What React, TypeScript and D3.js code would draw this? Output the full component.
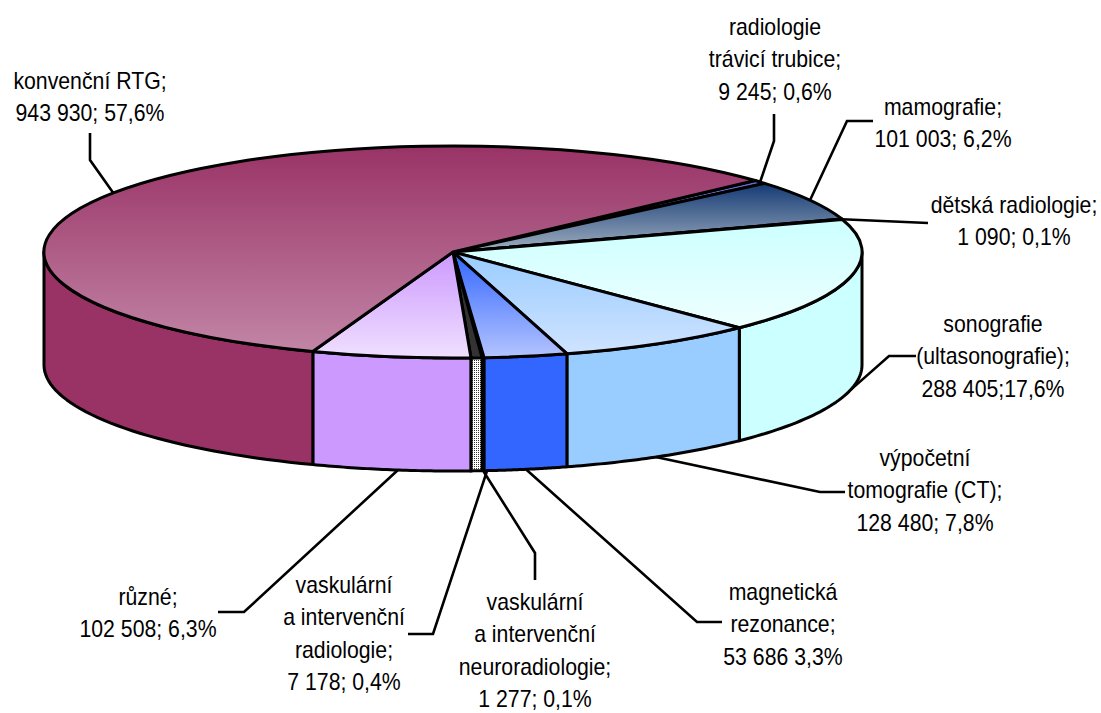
import React from "react";
import * as d3 from "d3";

const categories = [
  "radiologie trávicí trubice",
  "mamografie",
  "dětská radiologie",
  "sonografie",
  "výpočetní tomografie",
  "magnetická rezonance",
  "neuroradiologie",
  "vaskulární radiologie",
  "různé",
  "konvenční RTG",
];
const values = [9245, 101003, 1090, 288405, 128480, 53686, 1277, 7178, 102508, 943930];

const labelLines = [
  ["radiologie", "trávicí trubice;", "9 245; 0,6%"],
  ["mamografie;", "101 003; 6,2%"],
  ["dětská radiologie;", "1 090; 0,1%"],
  ["sonografie", "(ultasonografie);", "288 405;17,6%"],
  ["výpočetní", "tomografie (CT);", "128 480; 7,8%"],
  ["magnetická", "rezonance;", "53 686 3,3%"],
  ["vaskulární", "a intervenční", "neuroradiologie;", "1 277; 0,1%"],
  ["vaskulární", "a intervenční", "radiologie;", "7 178; 0,4%"],
  ["různé;", "102 508; 6,3%"],
  ["konvenční RTG;", "943 930; 57,6%"],
];

const sideColors = ["#6666cc", "#1a3a72", "#7f9bb5", "#ccffff", "#99ccff", "#3366ff", "url(#dots)", "url(#dots)", "#cc99ff", "#993366"];
const topFrom = ["#6666cc", "#143a74", "#7f94ad", "#ccffff", "#99ccff", "#3366ff", "#ffffff", "#ffffff", "#cc99ff", "#993366"];
const topTo = ["#9a9ae0", "#a0afc0", "#a0b0c0", "#eeffff", "#cfe3ff", "#b4c4ff", "#ffffff", "#ffffff", "#f0e0ff", "#c285a6"];

// label block centre and first baseline, then leader elbow points
const labelX = [775, 943, 1014, 993, 925, 783, 535, 344, 148, 90];
const labelY = [35, 115, 213, 332, 466, 600, 610, 593, 605, 89];
const leaders: [number, number][][] = [
  [[774, 141], [774, 114]],
  [[847, 121], [873, 121]],
  [[928, 223]],
  [[889, 356], [916, 356]],
  [[820, 492], [845, 492]],
  [[697, 622], [722, 622]],
  [[535, 553], [535, 580]],
  [[433, 634], [408, 634]],
  [[244, 612], [218, 612]],
  [[90, 160], [90, 133]],
];
const leaderOnSide = [false, false, false, true, true, true, true, true, true, false];
const leaderNudge = [0, 0, 0, 0, 0.01, 0, 0, -0.026, -0.018, 0];

const width = 1101;
const height = 713;
const cx = 453;
const cy = 252;
const rx = 409;
const ry = 106;
const depth = 113;
const lineHeight = 32.4;
const startAngle = (47.65 * Math.PI) / 180;
const thinSlice = 6; // neuroradiologie is too thin to carry its own outline

const slices = d3
  .pie<number>()
  .sort(null)
  .startAngle(startAngle)
  .endAngle(startAngle + 2 * Math.PI)(values);
const drawOrder = [thinSlice, ...slices.map((_, i) => i).filter((i) => i !== thinSlice)];

const unitArc = d3.arc<d3.PieArcDatum<number>>().innerRadius(0).outerRadius(1);
const project = (a: number, dy = 0): [number, number] => [cx + rx * Math.sin(a), cy - ry * Math.cos(a) + dy];
const line = d3.line();

// front wall of a slice, only the part facing the viewer
function sidePath(a0: number, a1: number) {
  const lo = Math.max(a0, Math.PI / 2);
  const hi = Math.min(a1, (3 * Math.PI) / 2);
  if (hi <= lo) return null;
  const steps = d3.range(0, 41).map((i) => lo + ((hi - lo) * i) / 40);
  const pts = [...steps.map((a) => project(a)), ...steps.slice().reverse().map((a) => project(a, depth))];
  return line(pts) + "Z";
}

export default function App() {
  return (
    <svg width={width} height={height} style={{ position: "absolute", left: 0, top: 0, background: "#fff" }}>
      <defs>
        <pattern id="dots" width="2" height="2" patternUnits="userSpaceOnUse">
          <rect width="2" height="2" fill="#fff" />
          <rect width="1" height="1" fill="#333" />
        </pattern>
        {slices.map((s, i) => (
          <linearGradient key={i} id={`top${i}`} x1="0" y1="0" x2="0" y2="1">
            <stop offset="0" stopColor={topFrom[i]} />
            <stop offset="1" stopColor={topTo[i]} />
          </linearGradient>
        ))}
      </defs>

      {drawOrder.map((i) => {
        const s = slices[i];
        const d = sidePath(s.startAngle, s.endAngle);
        if (!d) return null;
        return (
          <path
            key={i}
            d={d}
            fill={sideColors[i]}
            stroke={i === thinSlice ? "none" : "#000"}
            strokeWidth={3}
            strokeLinejoin="round"
          />
        );
      })}
      <g transform={`translate(${cx},${cy}) scale(${rx},${ry})`}>
        {drawOrder.map((i) => (
          <path
            key={i}
            d={unitArc(slices[i]) as string}
            fill={i === 6 || i === 7 ? "url(#dots)" : `url(#top${i})`}
            stroke={i === thinSlice ? "none" : "#000"}
            strokeWidth={3}
            strokeLinejoin="round"
            vectorEffect="non-scaling-stroke"
          />
        ))}
      </g>

      {slices.map((s, i) => {
        const mid = (s.startAngle + s.endAngle) / 2 + leaderNudge[i];
        const start = project(mid, leaderOnSide[i] ? depth : 0);
        return <path key={i} d={line([start, ...leaders[i]]) as string} fill="none" stroke="#000" strokeWidth={2.6} />;
      })}

      <g fontFamily="Liberation Sans" fontSize={23} fill="#000" textAnchor="middle">
        {labelLines.map((lines, i) =>
          lines.map((t, j) => (
            <text key={j} transform={`translate(${labelX[i]},${labelY[i] + j * lineHeight}) scale(0.925,1)`}>
              {t}
            </text>
          ))
        )}
      </g>
    </svg>
  );
}
